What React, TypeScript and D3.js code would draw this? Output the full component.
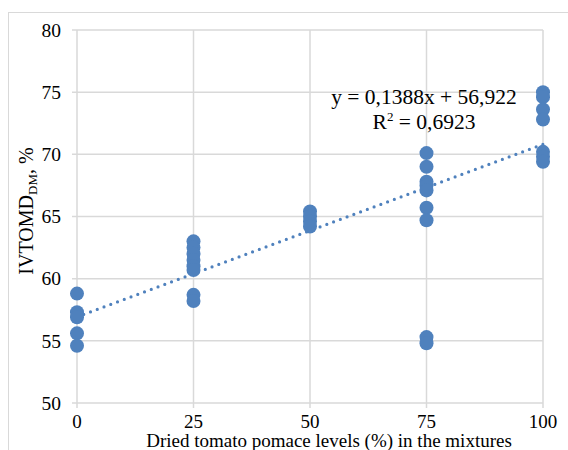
import React from "react";
import * as d3 from "d3";

const levels = [0, 25, 50, 75, 100];
const values0 = [58.8, 57.3, 56.9, 55.6, 54.6];
const values25 = [63.0, 62.5, 62.0, 61.5, 61.0, 60.7, 58.7, 58.2];
const values50 = [65.4, 65.0, 64.6, 64.2];
const values75 = [70.1, 69.0, 67.8, 67.5, 67.1, 65.7, 64.7, 55.3, 54.8];
const values100 = [75.0, 74.6, 73.6, 72.8, 70.2, 69.8, 69.4];
const yTicks = [50, 55, 60, 65, 70, 75, 80];
const slope = 0.1388;
const intercept = 56.922;
const eqLabel = "y = 0,1388x + 56,922";
const r2Label = "0,6923";

const groups = [values0, values25, values50, values75, values100];

export default function App() {
  const width = 568;
  const height = 450;
  const left = 77, right = 543, top = 30, bottom = 403;
  const x = d3.scaleLinear().domain([0, 100]).range([left, right]);
  const y = d3.scaleLinear().domain([50, 80]).range([bottom, top]);
  const blue = "#4f81bd";
  const grid = "#d9d9d9";
  const font = "'Liberation Serif', 'DejaVu Serif', serif";

  const points = groups.flatMap((vals, i) => vals.map((v) => ({ lx: levels[i], v })));
  const trend = d3.line<number>().x((d) => x(d)).y((d) => y(slope * d + intercept));

  return (
    <svg width={width} height={height} style={{ position: "absolute", left: 0, top: 0 }} fontFamily={font}>
      <rect x={8.5} y={12.5} width={600} height={500} fill="white" stroke={grid} />
      {yTicks.map((t) => (
        <g key={"y" + t}>
          <line x1={left - 5} x2={right} y1={y(t)} y2={y(t)} stroke={grid} strokeWidth={1.5} />
          <text x={left - 16} y={y(t)} dy="0.35em" textAnchor="end" fontSize={19.5} fill="#000">{t}</text>
        </g>
      ))}
      {levels.map((t) => (
        <g key={"x" + t}>
          <line x1={x(t)} x2={x(t)} y1={top} y2={bottom + 5} stroke={grid} strokeWidth={1.5} />
          <text x={x(t)} y={bottom + 25} textAnchor="middle" fontSize={19} fill="#000">{t}</text>
        </g>
      ))}
      <path d={trend([0, 100]) || ""} fill="none" stroke={blue} strokeWidth={3.2} strokeDasharray="0 7.2" strokeLinecap="round" />
      {points.map((p, i) => (
        <circle key={i} cx={x(p.lx)} cy={y(p.v)} r={7} fill={blue} />
      ))}
      <text x={424} y={104} textAnchor="middle" fontSize={21.5}>{eqLabel}</text>
      <text x={424} y={129} textAnchor="middle" fontSize={21.5}>
        R<tspan dy={-8} fontSize={13}>2</tspan><tspan dy={8}> = {r2Label}</tspan>
      </text>
      <text x={329} y={447} textAnchor="middle" fontSize={19}>
        Dried tomato pomace levels (%) in the mixtures
      </text>
      <text transform={`translate(33,211) rotate(-90)`} textAnchor="middle" fontSize={20}>
        IVTOMD<tspan dy={4} fontSize={13}>DM</tspan><tspan dy={-4}>, %</tspan>
      </text>
    </svg>
  );
}
